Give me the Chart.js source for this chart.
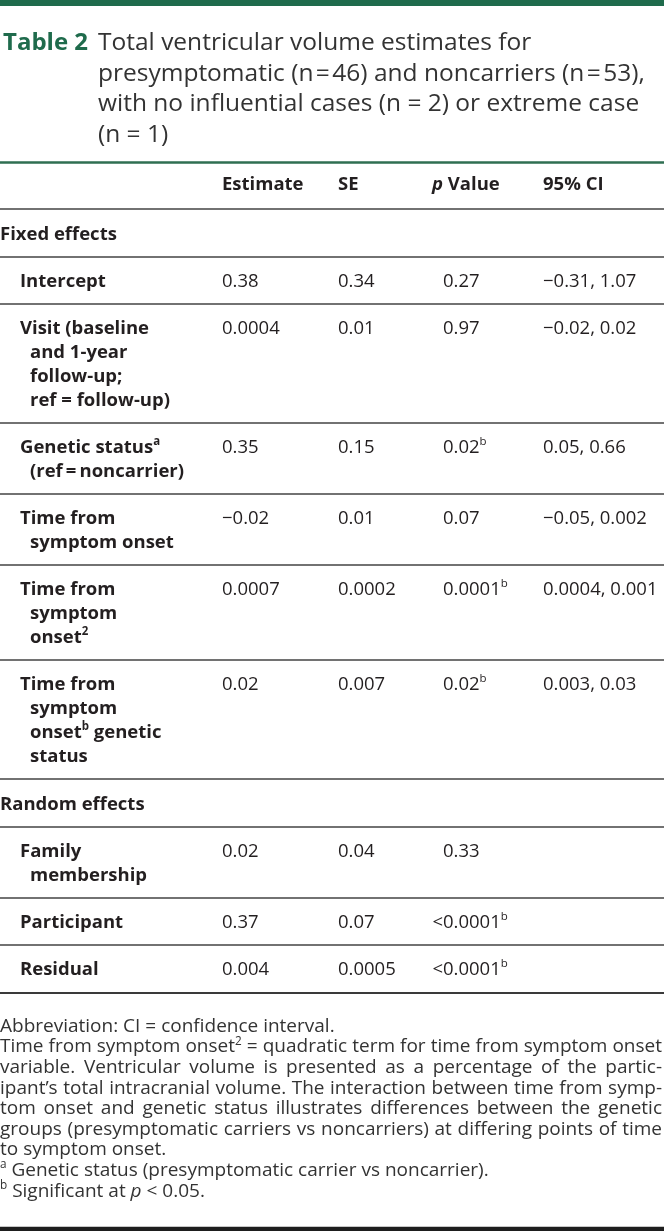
<!DOCTYPE html>
<html>
<head>
<meta charset="utf-8">
<title>Table 2 - Total ventricular volume estimates</title>
<script src="https://cdn.jsdelivr.net/npm/chart.js@4.4.1/dist/chart.umd.min.js"></script>
<style>
  html, body { margin: 0; padding: 0; background: #fff; }
  #wrap { width: 664px; height: 1231px; }
</style>
</head>
<body>
<div id="wrap"><canvas id="tableChart" width="664" height="1231"></canvas></div>
<script>
// ---- table content ----
// markup: ^x = superscript char, *..* = italic
const tableTag = 'Table 2';
const titleLines = [
  'Total ventricular volume estimates for',
  'presymptomatic (n\u200a=\u200a46) and noncarriers (n\u200a=\u200a53),',
  'with no influential cases (n = 2) or extreme case',
  '(n = 1)'
];
const columnHeads = ['Estimate', 'SE', '*p* Value', '95% CI'];
const sections = ['Fixed effects', 'Random effects'];

const fixedTerms = [
  ['Intercept'],
  ['Visit (baseline', 'and 1-year', 'follow-up;', 'ref = follow-up)'],
  ['Genetic status^a', '(ref\u2009=\u2009noncarrier)'],
  ['Time from', 'symptom onset'],
  ['Time from', 'symptom', 'onset^2'],
  ['Time from', 'symptom', 'onset^b genetic', 'status']
];
const fixedEstimate = ['0.38', '0.0004', '0.35', '\u22120.02', '0.0007', '0.02'];
const fixedSE = ['0.34', '0.01', '0.15', '0.01', '0.0002', '0.007'];
const fixedP = ['0.27', '0.97', '0.02^b', '0.07', '0.0001^b', '0.02^b'];
const fixedCI = ['\u22120.31, 1.07', '\u22120.02, 0.02', '0.05, 0.66', '\u22120.05, 0.002', '0.0004, 0.001', '0.003, 0.03'];

const randomTerms = [
  ['Family', 'membership'],
  ['Participant'],
  ['Residual']
];
const randomEstimate = ['0.02', '0.37', '0.004'];
const randomSE = ['0.04', '0.07', '0.0005'];
const randomP = ['0.33', '<0.0001^b', '<0.0001^b'];
const randomCI = ['', '', ''];

const noteLines = [
  'Abbreviation: CI = confidence interval.',
  'Time from symptom onset^2 = quadratic term for time from symptom onset',
  'variable. Ventricular volume is presented as a percentage of the partic-',
  'ipant\u2019s total intracranial volume. The interaction between time from symp-',
  'tom onset and genetic status illustrates differences between the genetic',
  'groups (presymptomatic carriers vs noncarriers) at differing points of time',
  'to symptom onset.',
  '^a Genetic status (presymptomatic carrier vs noncarrier).',
  '^b Significant at *p* < 0.05.'
];
const noteJustified = [false, true, true, true, true, true, false, false, false];

// ---- layout / style ----
const W = 664, H = 1231;
const FONT = '"Open Sans", "Noto Sans", sans-serif';
const TITLE_FS = 24.5, BODY_FS = 18.5, NOTE_FS = 19;
const INK = '#231f20', TITLE_INK = '#333333', GREEN = '#1f6b4c';
const LINE = 24, NOTE_LINE = 20.6, TITLE_LINE = 30.5;
const HEAD_X = [222, 338, 432, 543];
const VAL_X = [222, 338, 443, 543];
const LABEL_X = 20, WRAP_X = 30, SECTION_X = 0;

function parseRuns(str) {
  const runs = [];
  let italic = false, buf = '';
  for (let i = 0; i < str.length; i++) {
    const ch = str[i];
    if (ch === '*') {
      if (buf) runs.push({ t: buf, italic, sup: false });
      buf = ''; italic = !italic;
    } else if (ch === '^') {
      if (buf) runs.push({ t: buf, italic, sup: false });
      buf = '';
      runs.push({ t: str[i + 1], italic, sup: true });
      i++;
    } else {
      buf += ch;
    }
  }
  if (buf) runs.push({ t: buf, italic, sup: false });
  return runs;
}

function runFont(run, fs, weight) {
  const size = run.sup ? fs * 0.62 : fs;
  return (run.italic ? 'italic ' : '') + weight + ' ' + size + 'px ' + FONT;
}

function runsWidth(ctx, runs, fs, weight) {
  let w = 0;
  runs.forEach(r => { ctx.font = runFont(r, fs, weight); w += ctx.measureText(r.t).width; });
  return w;
}

function drawRuns(ctx, runs, x, base, fs, weight) {
  runs.forEach(r => {
    ctx.font = runFont(r, fs, weight);
    ctx.fillText(r.t, x, r.sup ? base - fs * 0.4 : base);
    x += ctx.measureText(r.t).width;
  });
  return x;
}

// draws a line of marked-up text; justify > 0 stretches spaces to that width
function drawRich(ctx, str, x, base, fs, weight, color, justify, hang) {
  ctx.fillStyle = color;
  ctx.textBaseline = 'alphabetic';
  ctx.textAlign = 'left';
  if (hang && str[0] === '<') {
    ctx.font = weight + ' ' + fs + 'px ' + FONT;
    x -= ctx.measureText('<').width;
  }
  if (!justify) {
    drawRuns(ctx, parseRuns(str), x, base, fs, weight);
    return;
  }
  const words = str.split(' ').map(parseRuns);
  const natural = words.reduce((s, w) => s + runsWidth(ctx, w, fs, weight), 0);
  const gap = (justify - natural) / (words.length - 1);
  words.forEach(w => {
    x = drawRuns(ctx, w, x, base, fs, weight) + gap;
  });
}

// ---- build datasets (cell anchors in layout units) ----
const rules = [];
const cells = { tag: [], title: [], head: [], section: [], label: [], value: [], note: [] };

cells.tag.push({ x: 3, y: 41, text: tableTag });
titleLines.forEach((t, i) => cells.title.push({ x: 98, y: 41.5 + i * TITLE_LINE, text: t }));
rules.push({ y: 3, w: 6, color: GREEN });
rules.push({ y: 162.5, w: 2.5, color: '#2f6f52' });

columnHeads.forEach((h, c) => cells.head.push({ x: HEAD_X[c], y: 183, text: h }));

let rowTop = 209;
function addSection(name, terms, cols) {
  rules.push({ y: rowTop, w: 1.6, color: '#505050' });
  cells.section.push({ x: SECTION_X, y: rowTop + 24, text: name });
  rowTop += 48;
  terms.forEach((lines, r) => {
    rules.push({ y: rowTop, w: 1.6, color: '#505050' });
    const c0 = rowTop + 23;
    lines.forEach((ln, k) => cells.label.push({ x: k === 0 ? LABEL_X : WRAP_X, y: c0 + k * LINE, text: ln }));
    cols.forEach((arr, c) => {
      if (arr[r]) cells.value.push({ x: VAL_X[c], y: c0, text: arr[r], hang: c === 2 });
    });
    rowTop += 47 + (lines.length - 1) * LINE;
  });
}
addSection(sections[0], fixedTerms, [fixedEstimate, fixedSE, fixedP, fixedCI]);
addSection(sections[1], randomTerms, [randomEstimate, randomSE, randomP, randomCI]);
rules.push({ y: rowTop + 1, w: 2, color: '#3a3a3a' });

noteLines.forEach((t, i) => cells.note.push({ x: 0, y: 1025 + i * NOTE_LINE, text: t, justify: noteJustified[i] ? 662 : 0 }));
rules.push({ y: 1229, w: 4.5, color: '#1e1e1e' });

const styles = {
  tag: { fs: TITLE_FS - 0.5, weight: 'bold', color: GREEN },
  title: { fs: TITLE_FS, weight: 'normal', color: TITLE_INK },
  head: { fs: BODY_FS, weight: 'bold', color: INK },
  section: { fs: BODY_FS, weight: 'bold', color: INK },
  label: { fs: BODY_FS, weight: 'bold', color: INK },
  value: { fs: BODY_FS, weight: 'normal', color: INK },
  note: { fs: NOTE_FS, weight: 'normal', color: TITLE_INK }
};

const datasets = Object.keys(cells).map(k => ({
  label: k,
  data: cells[k],
  pointRadius: 0,
  pointHoverRadius: 0,
  showLine: false,
  cellStyle: styles[k]
}));

const tableText = {
  id: 'tableText',
  afterDatasetsDraw(chart) {
    const ctx = chart.ctx;
    const xs = chart.scales.x, ys = chart.scales.y;
    ctx.save();
    rules.forEach(r => {
      const y = ys.getPixelForValue(r.y);
      const x0 = xs.getPixelForValue(0), x1 = xs.getPixelForValue(W);
      ctx.fillStyle = r.color;
      ctx.fillRect(x0, y - r.w / 2, x1 - x0, r.w);
    });
    chart.data.datasets.forEach((ds, di) => {
      const st = ds.cellStyle;
      chart.getDatasetMeta(di).data.forEach((pt, i) => {
        const d = ds.data[i];
        const just = d.justify ? xs.getPixelForValue(d.justify) - pt.x : 0;
        drawRich(ctx, d.text, pt.x, pt.y + st.fs * 0.357, st.fs, st.weight, st.color, just, d.hang);
      });
    });
    ctx.restore();
  }
};

function render() {
  new Chart(document.getElementById('tableChart'), {
    type: 'scatter',
    data: { datasets },
    options: {
      responsive: false,
      animation: false,
      devicePixelRatio: 1,
      events: [],
      layout: { padding: 0 },
      plugins: { legend: { display: false }, tooltip: { enabled: false } },
      scales: {
        x: { type: 'linear', min: 0, max: W, display: false },
        y: { type: 'linear', min: 0, max: H, reverse: true, display: false }
      }
    },
    plugins: [tableText]
  });
}

if (document.fonts && document.fonts.load) {
  Promise.all([
    document.fonts.load('18px "Open Sans"'),
    document.fonts.load('bold 18px "Open Sans"'),
    document.fonts.load('italic 18px "Open Sans"')
  ]).then(render, render);
} else {
  render();
}
</script>
</body>
</html>
